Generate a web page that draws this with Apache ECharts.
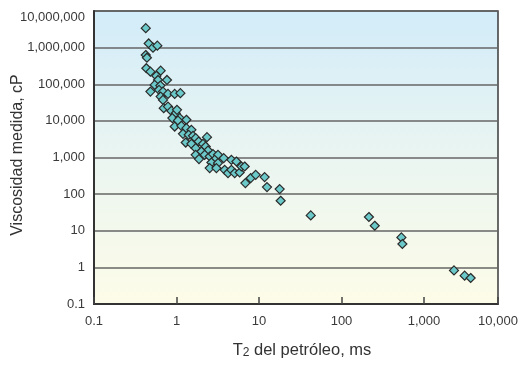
<!DOCTYPE html>
<html>
<head>
<meta charset="utf-8">
<script src="https://cdn.jsdelivr.net/npm/echarts@6/dist/echarts.min.js"></script>
<style>
  html, body { margin: 0; padding: 0; background: #ffffff; }
  #chart { width: 520px; height: 366px; }
</style>
</head>
<body>
<div id="chart"></div>
<script>
// Oil T2 relaxation time (ms) vs. measured viscosity (cP), one entry per sample
const t2Values = [
  0.424, 0.460, 0.519, 0.586, 0.424, 0.438, 0.431, 0.483, 0.643, 0.570,
  0.597, 0.767, 0.544, 0.638, 0.483, 0.614, 0.686, 0.789, 0.951, 1.115,
  0.643, 0.686, 0.700, 0.789, 0.867, 0.978, 1.014, 0.891, 1.093, 1.318,
  1.043, 0.951, 1.146, 1.318, 1.516, 1.199, 1.406, 1.585, 1.709, 2.342,
  1.293, 1.516, 1.858, 2.096, 1.709, 2.259, 2.409, 2.004, 1.709, 2.197,
  1.874, 2.526, 2.770, 3.184, 2.904, 2.649, 3.184, 3.733, 2.526, 3.045,
  3.840, 4.630, 5.320, 4.210, 4.630, 5.076, 5.830, 6.120, 6.710, 6.840,
  7.930, 9.120, 11.70, 12.50, 17.80, 18.30, 42.40, 215, 253, 532,
  547, 2310, 3110, 3680
];
const viscosityValues = [
  3400000, 1300000, 1000000, 1130000, 630000, 530000, 274000, 221000, 235000, 169000,
  131000, 131000, 96000, 91800, 63000, 70100, 63000, 54500, 54500, 57000,
  46000, 37400, 22200, 24600, 18700, 16200, 20000, 11900, 11900, 10700,
  10200, 7000, 7310, 6330, 5690, 4420, 4150, 3900, 3380, 3600,
  2560, 2360, 2730, 2360, 1800, 1990, 1550, 1455, 1183, 1183,
  903, 1064, 1237, 1183, 865, 730, 703, 962, 513, 513,
  461, 865, 777, 375, 461, 375, 389, 568, 568, 200,
  274, 337, 292, 156, 137, 65.9, 26.2, 23.7, 13.7, 6.58,
  4.35, 0.828, 0.593, 0.513
];

// Tick labels, in tick order
const xTickLabels = ['0.1', '1', '10', '100', '1,000', '10,000'];
const yTickLabels = ['0.1', '1', '10', '100', '1,000', '10,000', '100,000', '1,000,000', '10,000,000'];

const yTitle = 'Viscosidad medida, cP';

const points = t2Values.map((t, i) => [t, viscosityValues[i]]);

const labelFont = "'Liberation Sans', Arial, sans-serif";
const titleFont = "'Liberation Sans', Arial, sans-serif";

const chart = echarts.init(document.getElementById('chart'), null, { renderer: 'canvas' });

chart.setOption({
  animation: false,
  backgroundColor: '#ffffff',
  grid: {
    left: 94, right: 22, top: 11, bottom: 62,
    outerBoundsMode: 'none',
    containLabel: false,
    show: true,
    borderColor: '#3a3a3a',
    borderWidth: 1.5,
    backgroundColor: {
      type: 'linear', x: 0, y: 0, x2: 0, y2: 1,
      colorStops: [
        { offset: 0, color: '#d2ecf9' },
        { offset: 0.5, color: '#eaf5f1' },
        { offset: 1, color: '#fdfce8' }
      ]
    }
  },
  xAxis: {
    type: 'log',
    logBase: 10,
    min: 0.1,
    max: 7890,
    interval: 1,
    name: '{t|T}{s|2}{t| del petróleo, ms}',
    nameLocation: 'middle',
    nameGap: 38,
    nameMoveOverlap: false,
    nameTextStyle: {
      padding: [0, 0, 0, 12],
      rich: {
        t: { fontFamily: titleFont, fontSize: 16.5, color: '#333333' },
        s: { fontFamily: titleFont, fontSize: 12, color: '#333333', verticalAlign: 'bottom', padding: [5, 0, 0, 0] }
      }
    },
    axisLine: { show: true, lineStyle: { color: '#333333', width: 2 } },
    axisTick: { show: true, inside: true, length: 7, lineStyle: { color: '#444444', width: 1.5 } },
    axisLabel: {
      margin: 11,
      fontFamily: labelFont,
      fontSize: 13,
      color: '#3a3a3a',
      formatter: (v, i) => xTickLabels[i]
    },
    splitLine: { show: false }
  },
  yAxis: {
    type: 'log',
    logBase: 10,
    min: 0.1,
    max: 10000000,
    interval: 1,
    name: yTitle,
    nameLocation: 'middle',
    nameGap: 68,
    nameMoveOverlap: false,
    nameTextStyle: { fontFamily: titleFont, fontSize: 16, color: '#333333', padding: [0, 0, 0, 5] },
    axisLine: { show: true, lineStyle: { color: '#333333', width: 2 } },
    axisTick: { show: false },
    axisLabel: {
      margin: 9,
      fontFamily: labelFont,
      fontSize: 13,
      color: '#3a3a3a',
      verticalAlignMaxLabel: 'top',
      formatter: (v, i) => yTickLabels[i]
    },
    splitLine: { show: true, lineStyle: { color: '#666666', width: 1.5 } }
  },
  series: [{
    type: 'scatter',
    symbol: 'diamond',
    symbolSize: 9,
    data: points,
    itemStyle: { color: '#6cc9ca', borderColor: '#2a2a2a', borderWidth: 1.2, opacity: 1 }
  }]
});
</script>
</body>
</html>
